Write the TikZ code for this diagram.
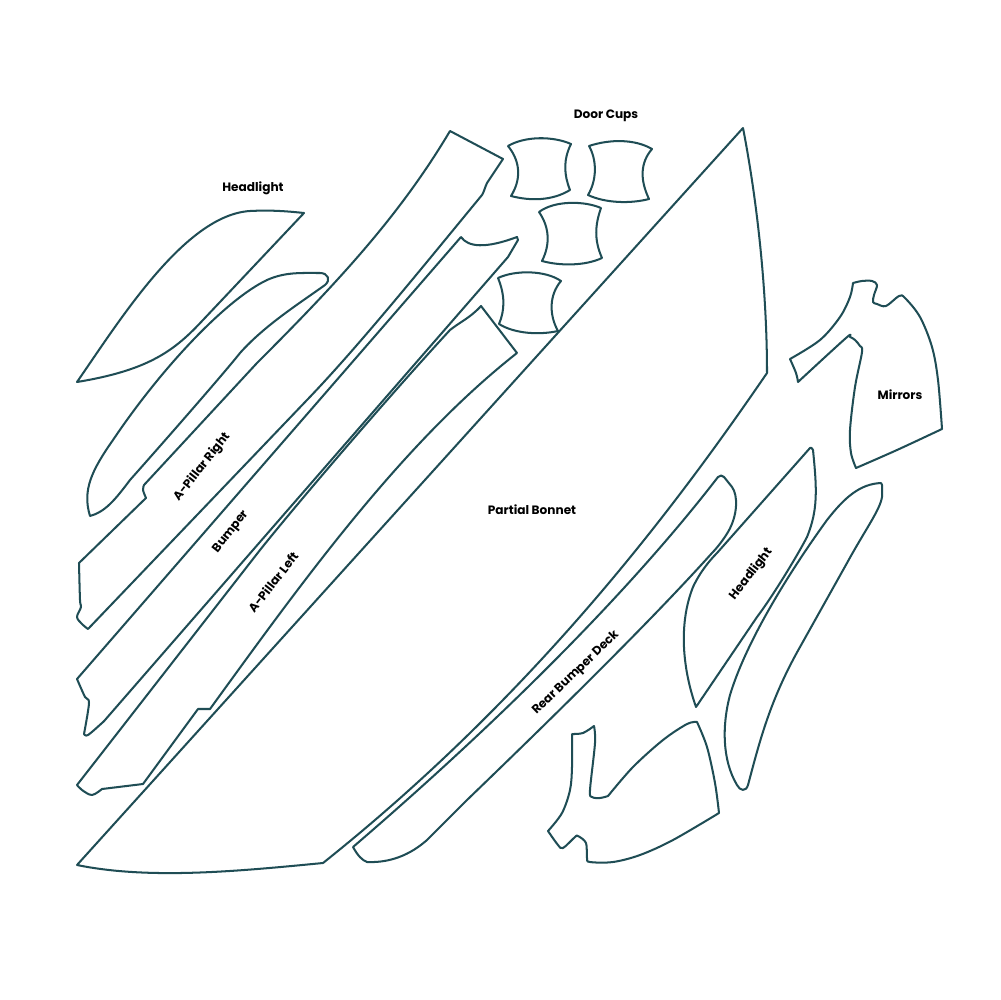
\documentclass[tikz,border=0pt]{standalone}
\usepackage{fontspec}
\setmainfont{Poppins}
\definecolor{cutcolor}{HTML}{1F4D55}
\tikzset{
    cutline/.style={draw=cutcolor,line width=1.15pt,line join=round,line cap=round},
    partlabel/.style={font=\fontsize{6.9}{8}\selectfont\bfseries,text=black,inner sep=0pt},
    soft/.style={smooth,tension=0.55}
}
\begin{document}
\begin{tikzpicture}[x=0.02cm,y=-0.02cm]
    \useasboundingbox[fill=white] (0,0) rectangle (1000,1000);
    % bonnet
    \draw[cutline] (77,865)--(743,128) .. controls (757,200) and (767,290) .. (767,373)
        .. controls (680,500) and (540,690) .. (323,863)
        .. controls (240,871) and (150,880) .. (77,865);
    % rear bumper deck
    \draw[cutline] (353,847) .. controls (480,738) and (620,604) .. (718,477)
        .. controls (720,475) and (722,475) .. (724,477) -- (732,487)
        .. controls (738,495) and (738,515) .. (728,532)
        .. controls (722,542) and (715,550) .. (712,553)
        .. controls (650,622) and (550,720) .. (467,800) -- (427,840)
        .. controls (410,855) and (390,863) .. (367,862)
        .. controls (362,860) and (358,856) .. (353,847);
    % headlights
    \draw[cutline] (77,382) .. controls (120,320) and (185,215) .. (250,211)
        .. controls (270,210) and (285,211) .. (304,213) -- (203,320)
        .. controls (175,350) and (150,370) .. (77,382);
    \draw[cutline] (696,707) .. controls (683,670) and (678,625) .. (693,587)
        .. controls (700,572) and (710,560) .. (717,553) -- (810,448)
        .. controls (811,447) and (812,448) .. (813,450)
        .. controls (817,490) and (818,510) .. (807,537)
        .. controls (795,560) and (770,600) .. (757,617) -- (696,707);
    % strips next to the headlights
    \draw[cutline] (90,516) .. controls (82,490) and (92,470) .. (113,440)
        .. controls (160,370) and (225,300) .. (267,280)
        .. controls (285,272) and (300,273) .. (320,273)
        .. controls (328,273) and (331,280) .. (325,285)
        .. controls (300,303) and (265,325) .. (240,353)
        .. controls (225,372) and (170,435) .. (130,480)
        .. controls (115,500) and (105,512) .. (90,516);
    \draw[cutline] (881,483) .. controls (860,484) and (845,497) .. (827,520)
        .. controls (785,578) and (745,645) .. (730,695)
        .. controls (722,725) and (722,760) .. (737,785)
        .. controls (740,791) and (746,792) .. (748,785)
        .. controls (760,740) and (770,700) .. (800,647) -- (847,563)
        .. controls (865,530) and (880,510) .. (882,497) -- (882,485) -- (881,483);
    % a-pillar right
    \draw[cutline] (450,131)--(503,159)--(487,183) .. controls (485,187) and (484,192) .. (482,195)
        .. controls (430,258) and (360,345) .. (307,400) -- (88,629)
        --plot[soft] coordinates {(88,629) (82,624) (77,617) (81,607) (80,600) (79,563)}
        --(146,498)
        --plot[soft] coordinates {(146,498) (143,490) (144,485)}
        --(257,363) .. controls (340,280) and (400,215) .. (450,131);
    % bumper
    \draw[cutline] (461,237) .. controls (468,247) and (485,249) .. (517,237)
        --(518,240)--(508,257)--(105,720)
        --plot[soft] coordinates {(105,720) (102,723) (88,735) (84,734)}
        --plot[soft] coordinates {(84,734) (89,703) (85,697) (77,679)}
        --(461,237);
    % a-pillar left
    \draw[cutline] plot[soft] coordinates {(77,785) (82,790) (92,795) (102,789)}
        --(143,784)--(198,709)--(210,709)
        .. controls (300,585) and (400,445) .. (517,353)
        --(481,306)
        .. controls (470,318) and (460,322) .. (450,330)
        .. controls (390,395) and (300,500) .. (260,550) -- (77,785);
    % door cups
    \draw[cutline] (508,146) .. controls (525,136) and (553,136) .. (571,144)
        .. controls (563,160) and (564,175) .. (570,190)
        .. controls (552,201) and (530,201) .. (511,196)
        .. controls (521,180) and (521,162) .. (508,146);
    \draw[cutline] (589,146) .. controls (610,139) and (635,139) .. (652,149)
        .. controls (640,163) and (640,180) .. (649,199)
        .. controls (630,204) and (605,203) .. (588,195)
        .. controls (597,180) and (597,160) .. (589,146);
    \draw[cutline] (539,212) .. controls (555,200) and (585,201) .. (601,208)
        .. controls (595,225) and (594,240) .. (602,258)
        .. controls (585,266) and (560,266) .. (542,261)
        .. controls (550,245) and (550,228) .. (539,212);
    \draw[cutline] (498,278) .. controls (515,270) and (545,270) .. (561,281)
        .. controls (549,295) and (549,315) .. (558,331)
        .. controls (540,335) and (515,334) .. (499,324)
        .. controls (505,310) and (505,295) .. (498,278);
    % mirrors
    \draw[cutline] plot[soft] coordinates {(853,283) (862,281) (872,281) (877,285) (874,295) (873,302) (877,304) (886,306) (899,296) (905,298) (920,317) (932,347) (938,380) (942,429)}
        --plot[soft] coordinates {(942,429) (897,450) (856,468)}
        --plot[soft] coordinates {(856,468) (851,453) (850,430) (855,387) (862,352) (860,346) (855,340) (850,337) (846,338) (798,382)}
        --plot[soft] coordinates {(798,382) (796,373) (790,359)}
        --plot[soft] coordinates {(790,359) (820,340) (840,317) (850,297) (853,283)};
    \draw[cutline] plot[soft] coordinates {(572,734) (583,733) (594,726)}
        --plot[soft] coordinates {(594,726) (595,743) (590,790) (592,797) (600,798) (608,796)}
        --plot[soft] coordinates {(608,796) (633,767) (663,740) (687,724) (697,722)}
        --plot[soft] coordinates {(697,722) (707,747) (715,783) (719,813)}
        --plot[soft] coordinates {(719,813) (673,840) (640,855) (613,862) (590,862) (587,858) (586,843) (578,836) (575,837) (563,848) (558,845) (548,831)}
        --plot[soft] coordinates {(548,831) (562,813) (570,790) (572,767) (572,734)};
    % labels
    \node[partlabel] (doorcups) at (606,116) {Door Cups};
    \node[partlabel] (headlighta) at (253,188) {Headlight};
    \node[partlabel,rotate=52] (headlightb) at (751,574) {Headlight};
    \node[partlabel] (mirrors) at (900,395) {Mirrors};
    \node[partlabel] (bonnet) at (532,510) {Partial Bonnet};
    \node[partlabel,rotate=52] (pillarright) at (202,467) {A-Pillar Right};
    \node[partlabel,rotate=52] (bumper) at (231,532) {Bumper};
    \node[partlabel,rotate=52] (pillarleft) at (273,582) {A-Pillar Left};
    \node[partlabel,rotate=44] (deck) at (576,673) {Rear Bumper Deck};
\end{tikzpicture}
\end{document}
